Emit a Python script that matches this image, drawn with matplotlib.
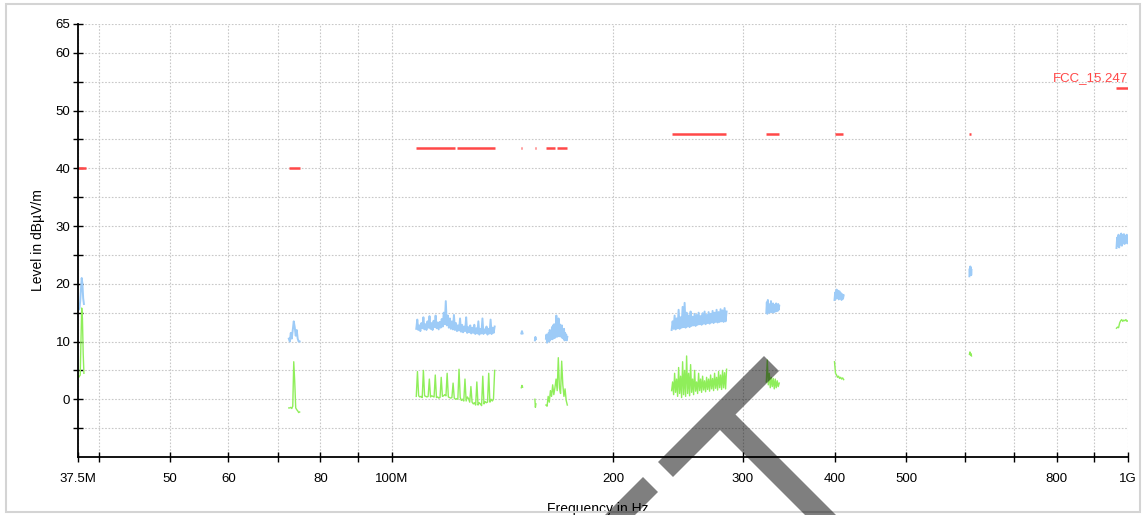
#!/usr/bin/env python3
"""
Grafico de emisiones radiadas (FCC 15.247) - barrido 37.5 MHz a 1 GHz
"""

import numpy as np
import matplotlib
matplotlib.use('Agg')
import matplotlib.pyplot as plt
from matplotlib.patches import Polygon, Rectangle

plt.rcParams['font.family'] = ['Liberation Sans', 'DejaVu Sans']

# Limite FCC_15.247 por bandas restringidas: (inicio MHz, fin MHz, nivel dBuV/m)
limite_ini = [37.5, 72.5, 108.0, 122.7, 150.0, 156.6, 162.0, 167.8, 240.0, 322.7, 399.4, 609.0, 964.6]
limite_fin = [38.5, 75.1, 122.0, 138.0, 150.4, 157.0, 166.7, 173.2, 284.5, 335.8, 410.6, 612.8, 1000.0]
limite_nivel = [40, 40, 43.5, 43.5, 43.5, 43.5, 43.5, 43.5, 46, 46, 46, 46, 54]

tramo_ini = [37.5, 72.5, 108.0, 150.0, 156.5, 162.0, 240.0, 322.7, 399.4, 609.0, 964.6]
tramo_fin = [38.2, 75.0, 138.0, 150.6, 157.0, 173.2, 285.0, 336.0, 411.0, 613.0, 1000.0]

pico = [
    [16, 15.5, 15.8, 17, 19, 21, 20, 17.5, 16.5],
    [10.5, 10, 11.5, 10.5, 12, 13.5, 12.5, 11, 12, 10.5, 10, 10],
    [12.2, 13.8, 12, 12.8, 11.8, 13.2, 12.3, 14.2, 12.1, 13, 12, 13.5, 12.4, 14.4,
     12.2, 13.2, 12, 13.6, 12.5, 14.5, 12.3, 13.3, 12.1, 13.4, 12.4, 13.9, 12.6, 15,
     13, 17, 12.8, 14.5, 12.4, 14, 12.2, 13.5, 12.1, 14.6, 12, 13.2, 11.8, 12.8, 11.9,
     14, 11.7, 12.9, 11.6, 12.6, 11.8, 14.2, 11.5, 12.5, 11.6, 12.8, 11.4, 12.4, 11.5,
     12.9, 11.3, 12.3, 11.4, 13.5, 11.2, 12.2, 11.4, 14, 11.3, 12.1, 11.5, 12.6, 11.2,
     12.2, 11.4, 13.8, 11.3, 12.4, 11.5, 12.6],
    [11.4, 11.8, 11.4],
    [10.2, 10.8, 10.4],
    [10.5, 11.2, 9.8, 10.8, 10.2, 11.5, 10, 12, 10.3, 11.5, 10.5, 12.5, 10.4, 12.8,
     10.8, 13, 10.6, 12.2, 11, 14.5, 10.8, 12.5, 11, 14, 10.9, 13, 11.2, 12.5, 10.8,
     12.8, 10.6, 11.8, 10.5, 12.2, 10.2, 11.5, 10.3, 11.2, 10.2, 10.8],
    [12, 13.5, 12.2, 14.5, 12.1, 14, 12.3, 15.5, 12.2, 14.2, 12.4, 16, 12.5, 16.7, 12.4,
     15, 12.6, 14.5, 12.5, 15.2, 12.7, 14.3, 12.8, 14.8, 12.7, 14.6, 12.9, 15, 13, 14.4,
     12.9, 14.9, 13.1, 15.2, 13, 14.6, 13.2, 15.1, 13.1, 14.8, 13.3, 15.3, 13.2, 15,
     13.4, 15.5, 13.3, 15.1, 13.4, 15.6, 13.5, 15.4, 13.4, 15.8, 13.5, 15.2],
    [15, 16.8, 14.8, 17.2, 15.2, 16.5, 15, 16.2, 15.4, 17, 15.1, 16.4, 15.3, 16.6, 15,
     16.2, 15.5, 16.4, 15.2, 16.6, 15.4, 16.3, 15.3, 16.5, 15.5, 16.2],
    [17.2, 18.5, 17.4, 19, 17.6, 18.8, 17.3, 18.7, 17.5, 18.4, 17.2, 18.2, 17.4, 18],
    [21.3, 22.6, 21.6, 23, 21.8, 22.8, 21.5, 22.4],
    [26.2, 28, 26.5, 28.5, 26.3, 28.3, 26.8, 28.7, 26.6, 28.4, 27, 28.6, 26.9, 28.2,
     27.2, 28.5, 27, 28.3],
]

promedio = [
    [4, 3.8, 4, 4.2, 10, 15.8, 14, 8, 4.5],
    [-1.5, -1.5, -1.4, -1.6, -1.2, 6.5, 3, -1.5, -1.8, -2, -2.3, -2.2],
    [0.5, 4.8, 0.6, 0.4, 0.5, 0.3, 5, 0.6, 0.5, 0.4, 0.5, 3.5, 0.4, 0.6, 0.5, 0.4, 4.2,
     0.3, 0.4, 0.2, 0.3, 3.8, 0.5, 0.6, 0.8, 0.6, 4.5, 0.4, 0.3, 0.2, 0.3, 2.8, 0.2, 0,
     0.1, 0, 5.2, 0.3, -0.2, 0, -0.3, 3.5, -0.3, 0.4, 0.1, -0.5, 2.2, -0.5, -0.8, -0.6,
     -1, 3, -1, -0.6, -0.8, -1.1, 4, -0.8, -0.4, -0.6, -0.5, 4.5, -0.5, 0, -0.3, 0, 5],
    [2, 2.4, 2.1],
    [0, -1.4, -0.8],
    [-1, -1.2, 0.5, -0.5, 1.5, 0.5, 2.5, 0.8, 2, 3.5, 1.5, 7.2, 2, 1, 6.6, 2.5, 0.5, 1.8,
     -0.2, -1],
    [1.5, 3, 0.8, 4.5, 1.2, 3.5, 0.5, 5.5, 1, 4, 0.3, 6.5, 0.8, 5, 0.5, 7.5, 1, 4.5, 0.6,
     6, 1.2, 3.5, 0.8, 5, 1.4, 3, 1, 4.5, 1.5, 3.5, 1.2, 4, 1.6, 3.2, 1.3, 3.8, 1.7, 3.5,
     1.4, 4.2, 1.8, 3.6, 1.5, 4.5, 1.9, 3.8, 1.6, 4.8, 2, 4.2, 1.7, 5, 2, 4.6, 1.8, 5.2],
    [3, 6.8, 2.5, 4.5, 2, 3.8, 2.2, 3.6, 1.8, 3.5, 2, 3.2, 2.2, 2.8],
    [6.5, 4.5, 4.2, 3.8, 4, 3.6, 3.8, 3.5, 3.7, 3.4],
    [7.8, 8.2, 7.6, 7.9, 7.5],
    [12.3, 12.5, 12.4, 13.2, 13.6, 13.8, 13.5, 13.7, 13.6, 13.8, 13.5, 13.6],
]

x_ticks = [37.5, 40, 50, 60, 70, 80, 90, 100, 200, 300, 400, 500, 600, 700, 800, 900, 1000]
x_labels = ['37.5M', '', '50', '60', '', '80', '', '100M', '200', '300', '400', '500',
            '', '', '800', '', '1G']
y_ticks = [-5, 0, 5, 10, 15, 20, 25, 30, 35, 40, 45, 50, 55, 60, 65]
y_labels = ['', '0', '', '10', '', '20', '', '30', '', '40', '', '50', '', '60', '65']

color_pico = '#9dcbf7'
color_prom = '#8fee5a'
color_lim = '#ff4848'

fig = plt.figure(figsize=(11.46, 5.15), dpi=100)
ax = fig.add_axes([78 / 1146, 1 - 457 / 515, 1050 / 1146, 433 / 515])

# Trazas medidas
for ini, fin, p, a in zip(tramo_ini, tramo_fin, pico, promedio):
    f = np.geomspace(ini, fin, len(p)) * 1e6
    ax.plot(f, p, color=color_pico, linewidth=1.4)
    f = np.geomspace(ini, fin, len(a)) * 1e6
    ax.plot(f, a, color=color_prom, linewidth=1.0)

# Linea de limite
for ini, fin, niv in zip(limite_ini, limite_fin, limite_nivel):
    ax.plot([ini * 1e6, fin * 1e6], [niv, niv], color=color_lim, linewidth=1.8,
            solid_capstyle='butt')
ax.text(1e9, 54.6, 'FCC_15.247', color=color_lim, fontsize=9.5, ha='right', va='bottom')

ax.set_xscale('log')
ax.set_xlim(37.5e6, 1e9)
ax.set_ylim(-10, 65)
ax.set_xticks([t * 1e6 for t in x_ticks])
ax.set_xticklabels(x_labels)
ax.xaxis.set_minor_locator(matplotlib.ticker.NullLocator())
ax.set_yticks(y_ticks)
ax.set_yticklabels(y_labels)
ax.tick_params(axis='both', labelsize=9.5, color='black', width=1.0)
ax.tick_params(axis='x', direction='inout', length=7, pad=8)
ax.tick_params(axis='y', direction='inout', length=7, pad=2)
ax.grid(True, linestyle=(0, (1.5, 1.5)), color='#c8c8c8', linewidth=0.8)
ax.set_axisbelow(True)

for lado in ['top', 'right']:
    ax.spines[lado].set_visible(False)
for lado in ['left', 'bottom']:
    ax.spines[lado].set_linewidth(1.3)

ax.set_xlabel('Frequency in Hz', fontsize=10)
ax.xaxis.set_label_coords(0.495, -0.105)
ax.set_ylabel('Level in dBµV/m', fontsize=10)
ax.yaxis.set_label_coords(-0.031, 0.5)


def px(x, y):
    return (x / 1146, 1 - y / 515)


# Marco exterior gris claro
fig.add_artist(Rectangle(px(6, 512), 1134 / 1146, 508 / 515, fill=False,
                         edgecolor='#d4d4d4', linewidth=1.5, transform=fig.transFigure))

# Marca de agua (trazos grises semitransparentes)
trazos = [
    [(764, 356), (779, 371), (735.5, 414.5), (861, 540), (845, 555), (720, 430),
     (673, 477), (658, 462)],
    [(643, 477), (658, 492), (605, 545), (590, 530)],
]
for t in trazos:
    fig.add_artist(Polygon([px(x, y) for x, y in t], closed=True, facecolor='black',
                           alpha=0.5, edgecolor='none', transform=fig.transFigure))

fig.savefig('out.png', dpi=100)
